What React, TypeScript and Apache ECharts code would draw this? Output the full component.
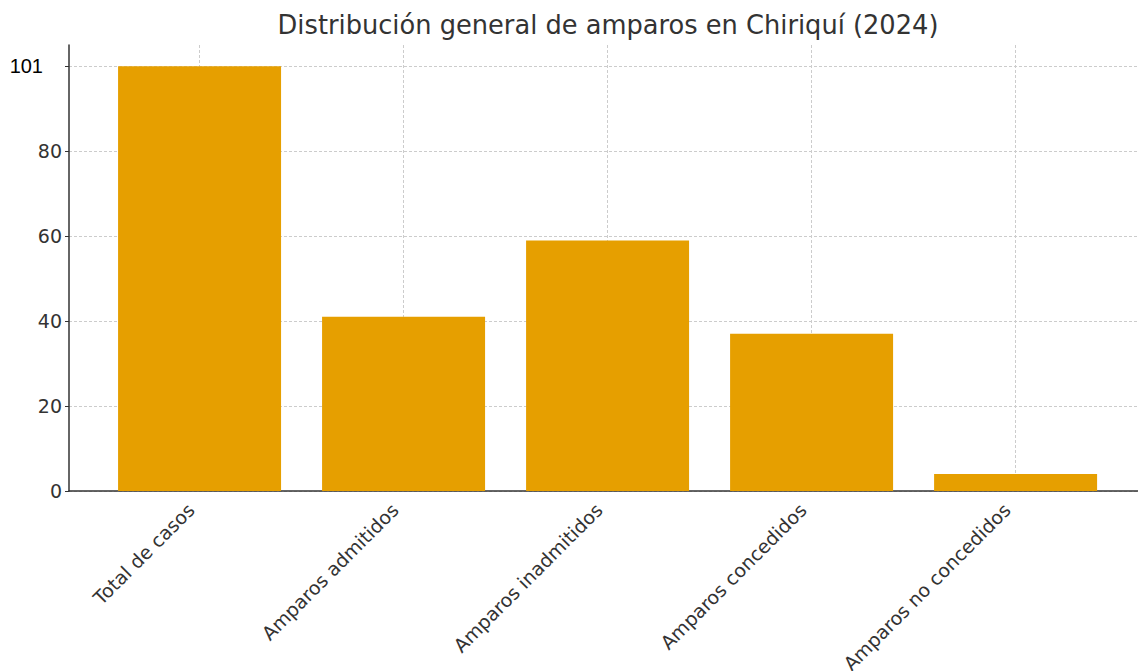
import React, { useEffect, useRef } from "react";
import * as echarts from "echarts";

const categories = [
  "Total de casos",
  "Amparos admitidos",
  "Amparos inadmitidos",
  "Amparos concedidos",
  "Amparos no concedidos",
];
const values = [100, 41, 59, 37, 4];
const yTickValues = [0, 20, 40, 60, 80, 100];
const yTickLabels = ["0", "20", "40", "60", "80", "101"];
const titleText = "Distribución general de amparos en Chiriquí (2024)";

const FONT = "DejaVu Sans";

export default function App() {
  const ref = useRef<HTMLDivElement>(null);
  useEffect(() => {
    if (!ref.current) return;
    const chart = echarts.init(ref.current, undefined, { renderer: "svg" });
    const catIdx = categories.map((_, i) => i);
    chart.setOption({
      animation: false,
      backgroundColor: "#ffffff",
      title: {
        text: titleText,
        left: 608,
        top: 12,
        padding: 0,
        textAlign: "center",
        textStyle: { fontFamily: FONT, fontSize: 25.7, fontWeight: "normal", color: "#333333" },
      },
      grid: { left: 69, top: 45, right: 0, height: 446, containLabel: false, outerBoundsMode: "none" },
      xAxis: {
        type: "value",
        min: -0.64,
        max: 4.6,
        axisLine: { show: true, onZero: false, lineStyle: { color: "#333333", width: 1.5 } },
        axisTick: { show: true, inside: true, length: 5, customValues: catIdx, lineStyle: { color: "#333333" } },
        axisLabel: {
          customValues: catIdx,
          rotate: 45,
          margin: 7,
          padding: [0, 12, 0, 0],
          fontFamily: FONT,
          fontSize: 19,
          color: "#333333",
          formatter: (v: number) => categories[Math.round(v)] ?? "",
        },
        splitLine: { show: true, lineStyle: { color: "#cccccc", type: [3, 2], width: 1 } },
      },
      yAxis: {
        type: "value",
        min: 0,
        max: 105,
        axisLine: { show: true, onZero: false, lineStyle: { color: "#333333", width: 1.5 } },
        axisTick: { show: true, length: 4, customValues: yTickValues, lineStyle: { color: "#333333" } },
        axisLabel: {
          customValues: yTickValues,
          margin: 7,
          fontFamily: FONT,
          fontSize: 19,
          color: "#333333",
          formatter: (v: number) => {
            const i = yTickValues.indexOf(v);
            if (i < 0) return "";
            if (v === 100) return "{alt|" + yTickLabels[i] + "}";
            return yTickLabels[i];
          },
          rich: {
            alt: {
              fontFamily: "Liberation Sans",
              fontSize: 20,
              color: "#000000",
              padding: [0, 19, 0, 0],
            },
          },
        },
        splitLine: { show: true, lineStyle: { color: "#cccccc", type: [3, 2], width: 1 } },
      },
      series: [
        {
          type: "bar",
          data: values.map((v, i) => [i, v]),
          barWidth: 163,
          itemStyle: { color: "#E69F00" },
        },
      ],
    });
    return () => chart.dispose();
  }, []);
  return (
    <div
      ref={ref}
      style={{ position: "fixed", left: 0, top: 0, width: 1138, height: 671 }}
    />
  );
}
